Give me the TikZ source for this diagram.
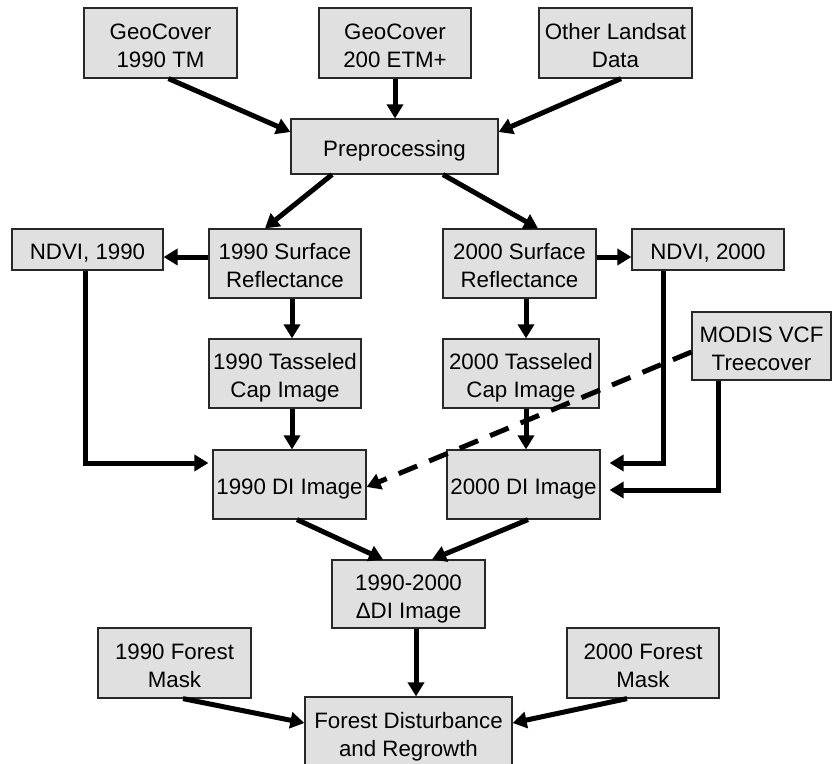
\documentclass[tikz,border=0pt]{standalone}
\usepackage{fontspec}
\setmainfont{Liberation Sans}
\usetikzlibrary{arrows.meta,calc}
\definecolor{boxfill}{RGB}{224,224,224}
\definecolor{boxline}{RGB}{40,40,40}
\newcommand\bxT{\rule{0pt}{25pt}}
\newcommand\bxB{\rule[-5pt]{0pt}{0pt}}
\begin{document}
\begin{tikzpicture}[x=1pt,y=-1pt,
  box/.style={draw=boxline, line width=1.2pt, fill=boxfill, inner sep=0pt,
    align=center, font=\fontsize{22.3}{28}\selectfont},
  arr/.style={line width=5pt, -{Triangle[length=14pt,width=16pt]}},
]
\useasboundingbox (0,0) rectangle (832,763);

\node[box, minimum width=153pt, minimum height=70pt] (g90) at (160.5,43) {\bxT GeoCover\\1990 TM\bxB};
\node[box, minimum width=152pt, minimum height=70pt] (g00) at (395,43) {\bxT GeoCover\\200 ETM+\bxB};
\node[box, minimum width=153pt, minimum height=70pt] (oth) at (615.5,43) {\bxT Other Landsat\\Data\bxB};
\node[box, minimum width=207pt, minimum height=55pt] (pre) at (394.5,146.5) {\bxT Preprocessing\bxB};
\node[box, minimum width=151pt, minimum height=41pt] (n90) at (87.5,249.5) {\bxT NDVI, 1990\bxB};
\node[box, minimum width=152pt, minimum height=69pt] (sr90) at (285,263.5) {\bxT 1990 Surface\\Reflectance\bxB};
\node[box, minimum width=153pt, minimum height=69pt] (sr00) at (519.5,263.5) {\bxT 2000 Surface\\Reflectance\bxB};
\node[box, minimum width=152pt, minimum height=41pt] (n00) at (708,249.5) {\bxT NDVI, 2000\bxB};
\node[box, minimum width=152pt, minimum height=69pt] (tc90) at (285,373.5) {\bxT 1990 Tasseled\\Cap Image\bxB};
\node[box, minimum width=156pt, minimum height=69pt] (tc00) at (521,373.5) {\bxT 2000 Tasseled\\Cap Image\bxB};
\node[box, minimum width=139pt, minimum height=68pt] (modis) at (761.5,346) {\bxT MODIS VCF\\Treecover\bxB};
\node[box, minimum width=153pt, minimum height=69pt] (di90) at (289.5,484.5) {\bxT 1990 DI Image\bxB};
\node[box, minimum width=153pt, minimum height=69pt] (di00) at (523.5,484.5) {\bxT 2000 DI Image\bxB};
\node[box, minimum width=153pt, minimum height=68pt] (ddi) at (408.5,594) {\bxT 1990-2000\\ΔDI Image\bxB};
\node[box, minimum width=153pt, minimum height=70pt] (fm90) at (174.5,663) {\bxT 1990 Forest\\Mask\bxB};
\node[box, minimum width=152pt, minimum height=70pt] (fm00) at (643,663) {\bxT 2000 Forest\\Mask\bxB};
\node[box, minimum width=207pt, minimum height=70pt] (fd) at (408.5,732) {\bxT Forest Disturbance\\and Regrowth\bxB};

\draw[arr] ($(g90.south)+(8,0)$) -- ($(pre.west)+(0,-14.5)$);
\draw[arr] (g00.south) -- (g00.south |- pre.north);
\draw[arr] ($(oth.south)+(5.5,0)$) -- ($(pre.east)+(0,-14.5)$);
\draw[arr] ($(pre.south)+(-62.5,0)$) -- ($(sr90.north)+(-20,0)$);
\draw[arr] ($(pre.south)+(48.5,0)$) -- ($(sr00.north)+(18.5,0)$);
\coordinate (a1) at ($(sr90.west)+(0,-6.5)$);
\draw[arr] (a1) -- (a1 -| n90.east);
\coordinate (a2) at ($(sr00.east)+(0,-6.5)$);
\draw[arr] (a2) -- (a2 -| n00.west);
\coordinate (a3) at ($(sr90.south)+(7,0)$);
\draw[arr] (a3) -- (a3 |- tc90.north);
\coordinate (a4) at ($(tc90.south)+(7,0)$);
\draw[arr] (a4) -- (a4 |- di90.north);
\coordinate (a5) at ($(sr00.south)+(6.5,0)$);
\draw[arr] (a5) -- (a5 |- tc00.north);
\coordinate (a6) at ($(tc00.south)+(5,0)$);
\draw[arr] (a6) -- (a6 |- di00.north);
\coordinate (a7) at ($(n90.south)+(-2.5,0)$);
\coordinate (a8) at ($(di90.west)+(0,-21.5)$);
\draw[arr, shorten >=4pt] (a7) -- (a7 |- a8) -- (a8);
\coordinate (a9) at ($(n00.south)+(-45,0)$);
\coordinate (a10) at ($(di00.east)+(0,-21.5)$);
\draw[arr, shorten >=9pt] (a9) -- (a9 |- a10) -- (a10);
\coordinate (a11) at ($(modis.south)+(-43.5,0)$);
\coordinate (a12) at ($(di00.east)+(0,5.5)$);
\draw[arr, shorten >=9pt] (a11) -- (a11 |- a12) -- (a12);
\draw[arr, dash pattern=on 20pt off 13pt] ($(modis.west)+(0,6)$) -- ($(di90.east)+(0,2.5)$);
\draw[arr] ($(di90.south)+(7.5,0)$) -- ($(ddi.north)+(-25.5,0)$);
\draw[arr] ($(di00.south)+(4.5,0)$) -- ($(ddi.north)+(23.5,0)$);
\coordinate (a13) at ($(ddi.south)+(7.5,0)$);
\draw[arr] (a13) -- (a13 |- fd.north);
\draw[arr] ($(fm90.south)+(8.5,0)$) -- ($(fd.west)+(0,-9)$);
\draw[arr] ($(fm00.south)+(-16,0)$) -- ($(fd.east)+(0,-9)$);
\end{tikzpicture}
\end{document}
